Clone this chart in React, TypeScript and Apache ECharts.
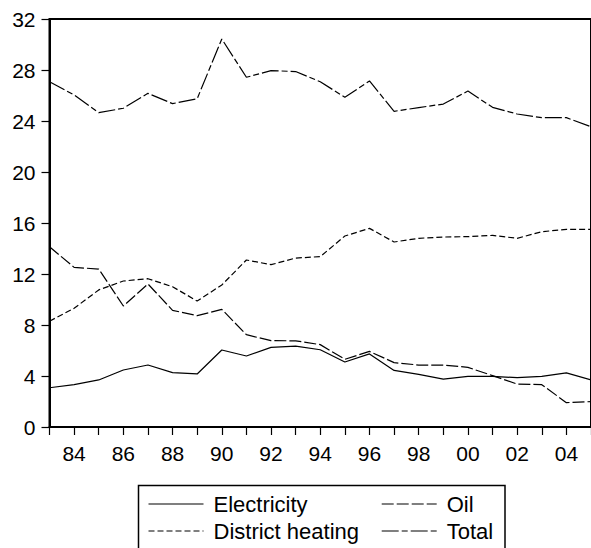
import React, { useEffect, useRef } from "react";
import * as echarts from "echarts";

const years: string[] = [
  "1983", "1984", "1985", "1986", "1987", "1988", "1989", "1990", "1991", "1992", "1993",
  "1994", "1995", "1996", "1997", "1998", "1999", "2000", "2001", "2002", "2003", "2004", "2005",
];
const electricity: number[] = [
  3.08, 3.32, 3.69, 4.47, 4.86, 4.26, 4.16, 6.04, 5.57, 6.25, 6.35,
  6.06, 5.1, 5.73, 4.44, 4.13, 3.76, 3.97, 3.97, 3.87, 3.97, 4.24, 3.69,
];
const oil: number[] = [
  14.14, 12.52, 12.39, 9.49, 11.22, 9.15, 8.73, 9.23, 7.24, 6.77, 6.76,
  6.46, 5.31, 5.93, 5.05, 4.86, 4.86, 4.68, 4.03, 3.37, 3.32, 1.91, 1.99,
];
const districtHeating: number[] = [
  8.3, 9.31, 10.75, 11.45, 11.63, 11.0, 9.88, 11.14, 13.1, 12.73, 13.25,
  13.36, 14.98, 15.58, 14.51, 14.8, 14.9, 14.93, 15.03, 14.8, 15.32, 15.5, 15.5,
];
const total: number[] = [
  27.08, 26.04, 24.65, 25.0, 26.17, 25.36, 25.75, 30.43, 27.43, 27.95, 27.88,
  27.08, 25.86, 27.14, 24.76, 25.05, 25.33, 26.35, 25.07, 24.55, 24.26, 24.26, 23.55,
];
const yTicks = { min: 0, max: 32, interval: 4 };

const seriesNames = ["Electricity", "Oil", "District heating", "Total"];
const seriesData = [electricity, oil, districtHeating, total];
const seriesDash: (string | number[])[] = ["solid", [12, 3], [6, 3], [17, 3, 6, 3]];

const FONT = 'Arial, "Liberation Sans", sans-serif';

export default function App() {
  const ref = useRef<HTMLDivElement>(null);
  useEffect(() => {
    if (!ref.current) return;
    const chart = echarts.init(ref.current, undefined, { renderer: "svg" });

    // legend layout: two columns, two rows
    const legendPos = [
      { x: 148.5, y: 504 },
      { x: 381.7, y: 504 },
      { x: 148.5, y: 531 },
      { x: 381.7, y: 531 },
    ];
    const legendGraphics: any[] = [
      {
        type: "rect",
        shape: { x: 138.5, y: 485.5, width: 366.5, height: 80 },
        style: { fill: "none", stroke: "#000", lineWidth: 1.5 },
        silent: true,
      },
    ];
    seriesNames.forEach((name, i) => {
      const p = legendPos[i];
      const dash = seriesDash[i];
      legendGraphics.push({
        type: "line",
        shape: { x1: p.x, y1: p.y, x2: p.x + 55, y2: p.y },
        style: {
          stroke: "#000",
          lineWidth: 1.2,
          lineDash: dash === "solid" ? null : dash,
        },
        silent: true,
      });
      legendGraphics.push({
        type: "text",
        x: p.x + 65,
        y: p.y,
        style: {
          text: name,
          fill: "#000",
          font: `22px ${FONT}`,
          verticalAlign: "middle",
          align: "left",
        },
        silent: true,
      });
    });

    chart.setOption({
      animation: false,
      backgroundColor: "#fff",
      grid: {
        left: 49.5,
        right: -1.3,
        top: 19,
        bottom: 121,
        show: true,
        borderColor: "#000",
        borderWidth: 2,
        containLabel: false,
      },
      xAxis: {
        type: "category",
        data: years,
        boundaryGap: false,
        axisLine: { lineStyle: { color: "#000", width: 2 } },
        axisTick: { show: true, interval: 0, length: 8, lineStyle: { color: "#000", width: 1.2 } },
        axisLabel: {
          interval: (index: number) => index % 2 === 1,
          formatter: (v: string) => v.slice(2),
          fontFamily: FONT,
          fontSize: 21,
          color: "#000",
          margin: 16,
        },
        splitLine: { show: false },
      },
      yAxis: {
        type: "value",
        min: yTicks.min,
        max: yTicks.max,
        interval: yTicks.interval,
        axisLine: { show: true, lineStyle: { color: "#000", width: 2 } },
        axisTick: { show: true, length: 8, lineStyle: { color: "#000", width: 1.2 } },
        axisLabel: { fontFamily: FONT, fontSize: 21, color: "#000", margin: 14 },
        splitLine: { show: false },
      },
      graphic: legendGraphics,
      series: seriesNames.map((name, i) => ({
        name,
        type: "line",
        data: seriesData[i],
        symbol: "none",
        lineStyle: { color: "#000", width: 1.2, type: seriesDash[i] },
        itemStyle: { color: "#000" },
      })),
    });
    return () => chart.dispose();
  }, []);
  return (
    <div
      ref={ref}
      style={{ position: "fixed", left: 0, top: 0, width: 591, height: 548, background: "#fff" }}
    />
  );
}
